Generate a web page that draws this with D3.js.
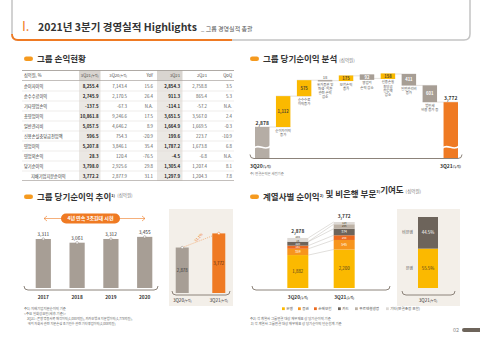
<!DOCTYPE html>
<html>
<head>
<meta charset="utf-8">
<script src="https://cdn.jsdelivr.net/npm/d3@7"></script>
<style>
  body { margin: 0; background: #fff; }
  svg { display: block; }
  text { font-family: "Noto Sans CJK KR", "Noto Sans", sans-serif; }
</style>
</head>
<body>
<div id="app"></div>
<script>
// ---- data ----
const TABLE_COLS = ["3Q21(누적)", "3Q20(누적)", "YoY", "3Q21", "2Q21", "QoQ"];
const TABLE_ROWS = ["순이자이익", "순수수료이익", "기타영업손익", "총영업이익", "일반관리비",
  "신용손실충당금전입액", "영업이익", "영업외손익", "당기순이익", "지배기업지분순이익"];
const TABLE_VALUES = [
  ["8,255.4", "7,143.4", "15.6", "2,854.3", "2,758.8", "3.5"],
  ["2,745.9", "2,170.5", "26.4", "911.3", "865.4", "5.3"],
  ["-137.5", "-67.3", "N.A.", "-114.1", "-57.2", "N.A."],
  ["10,861.8", "9,246.6", "17.5", "3,651.5", "3,567.0", "2.4"],
  ["5,057.5", "4,646.2", "8.9", "1,664.9", "1,669.5", "-0.3"],
  ["596.5", "754.3", "-20.9", "199.6", "223.7", "-10.9"],
  ["5,207.8", "3,846.1", "35.4", "1,787.2", "1,673.8", "6.8"],
  ["28.3", "120.4", "-76.5", "-4.5", "-6.8", "N.A."],
  ["3,798.0", "2,925.6", "29.8", "1,305.4", "1,207.4", "8.1"],
  ["3,772.2", "2,877.9", "31.1", "1,297.9", "1,204.3", "7.8"]
];

const WF_LABELS = ["3Q20(누적)", "순이자이익\n증가", "순수수료\n이익증가", "유가증권 및\n파생·외환\n관련 손익\n감소",
  "보험손익\n증가", "영업외\n손익 감소", "신용손실\n충당금\n전입액\n감소", "일반관리비\n증가",
  "법인세\n비용 증가 등", "3Q21(누적)"];
const WF_VALUES = [2878, 1112, 575, -18, 175, -92, 158, -411, -601, 3772];

const TREND_YEARS = ["2017", "2018", "2019", "2020"];
const TREND_VALUES = [3311, 3061, 3312, 3455];
const CUM_PERIODS = ["3Q20", "3Q21"];
const CUM_VALUES = [2878, 3772];
const CUM_GROWTH = "31.1%";

const AFFILIATES = ["은행", "증권", "손해보험", "카드", "푸르덴셜생명", "기타(연결조정 포함)"];
const AFF_3Q20 = [1882, 359, 181, 220, 15, 204];
const AFF_3Q21 = [2200, 545, 268, 374, 256, 129];
const AFF_TOTALS = [2878, 3772];
const SHARE_LABELS = ["은행", "비은행"];
const SHARE_VALUES = [55.5, 44.5];

// ---- colors ----
const ORANGE = "#ef7a23";
const YELLOW = "#fbb900";
const GRAY = "#a79e95";
const DARK = "#6d645b";
const BEIGE = "#f3efe9";
const AFF_COLORS = [YELLOW, "#f7951d", "#ec6a1f", DARK, "#bdb2a6", "#dedad6"];

const svg = d3.select("#app").append("svg").attr("width", 480).attr("height", 338);
svg.append("rect").attr("width", 480).attr("height", 338).attr("fill", "#fff");

function lines(g, str, x, y, lh, opts = {}) {
  const t = g.append("text").attr("font-size", opts.size || 4).attr("fill", opts.fill || "#555")
    .attr("text-anchor", opts.anchor || "middle");
  str.split("\n").forEach((l, i) => t.append("tspan").attr("x", x).attr("y", y + i * lh).text(l));
  return t;
}

function bracket(x0, x1, y) {
  svg.append("path")
    .attr("d", `M${x0},${y - 4} Q${x0},${y} ${x0 + 4},${y} L${x1 - 4},${y} Q${x1},${y} ${x1},${y - 4}`)
    .attr("fill", "none").attr("stroke", "#8c837a").attr("stroke-width", 1);
}

function sectionTitle(x, y, title, sup, unit) {
  svg.append("rect").attr("x", x - 13).attr("y", y - 5.5).attr("width", 9).attr("height", 4.5)
    .attr("rx", 2.25).attr("fill", "#f59a1f");
  const t = svg.append("text").attr("x", x).attr("y", y).attr("font-size", 8.5)
    .attr("font-weight", 700).attr("fill", "#333");
  title.forEach((p, i) => {
    t.append("tspan").text(p);
    if (sup[i]) t.append("tspan").attr("font-size", 4).attr("dy", -3.5).text(sup[i])
      .clone(true).text("").attr("dy", 3.5);
  });
  if (unit) t.append("tspan").attr("font-size", 4.5).attr("font-weight", 400).attr("fill", "#777")
    .attr("dx", 2).text(unit);
}

// ---- header ----
svg.append("path")
  .attr("d", "M12,-10 L12,34 Q12,40 18,40 L464,40 Q470,40 470,34 L470,-10")
  .attr("fill", "none").attr("stroke", "#c4c4c4").attr("stroke-width", 1.5);
svg.append("path").attr("d", "M12,34 Q12,40 18,40 L232,40")
  .attr("fill", "none").attr("stroke", ORANGE).attr("stroke-width", 1.8);
svg.append("text").attr("x", 22).attr("y", 31).attr("font-size", 13).attr("fill", ORANGE).text("I.");
svg.append("text").attr("x", 38).attr("y", 31).attr("font-size", 10.5).attr("font-weight", 700)
  .attr("fill", "#333").text("2021년 3분기 경영실적 Highlights");
svg.append("text").attr("x", 201).attr("y", 31).attr("font-size", 6).attr("fill", "#555")
  .text("_ 그룹 경영실적 총괄");

// ---- table ----
sectionTitle(37, 62, ["그룹 손익현황"], [], null);
const colRight = [99.5, 128, 154, 181, 208, 233];
const shaded = [[79, 100.5], [157, 182.5]];
shaded.forEach(([a, b]) => {
  svg.append("rect").attr("x", a).attr("y", 70.5).attr("width", b - a).attr("height", 10).attr("fill", "#d9d5d0");
  svg.append("rect").attr("x", a).attr("y", 80.5).attr("width", b - a).attr("height", 100).attr("fill", "#ebe8e4");
});
const rowY = i => 86 + i * 10;
svg.append("line").attr("x1", 22).attr("x2", 234).attr("y1", 70.5).attr("y2", 70.5).attr("stroke", "#9a948e").attr("stroke-width", 0.8);
svg.append("line").attr("x1", 22).attr("x2", 234).attr("y1", 80.5).attr("y2", 80.5).attr("stroke", "#9a948e").attr("stroke-width", 0.6);
TABLE_ROWS.forEach((r, i) => {
  if (i > 0) svg.append("line").attr("x1", 22).attr("x2", 234).attr("y1", rowY(i) - 5).attr("y2", rowY(i) - 5)
    .attr("stroke", "#dedad6").attr("stroke-width", 0.5);
});
svg.append("line").attr("x1", 22).attr("x2", 234).attr("y1", 180.5).attr("y2", 180.5).attr("stroke", "#9a948e").attr("stroke-width", 0.6);
svg.append("text").attr("x", 24).attr("y", 76.7).attr("font-size", 4.2).attr("fill", "#444").text("십억원, %");
TABLE_COLS.forEach((c, j) => {
  const t = svg.append("text").attr("x", colRight[j] - 1).attr("y", 76.7).attr("font-size", 4.2)
    .attr("fill", "#444").attr("text-anchor", "end");
  const m = c.match(/^(.*?)(\(누적\))?$/);
  t.append("tspan").text(m[1]);
  if (m[2]) t.append("tspan").attr("font-size", 3).text(m[2]);
});
TABLE_ROWS.forEach((r, i) => {
  svg.append("text").attr("x", i === 9 ? 31 : 24).attr("y", rowY(i) + 1.6).attr("font-size", 4.2)
    .attr("fill", "#333").text(r);
  TABLE_VALUES[i].forEach((v, j) => {
    svg.append("text").attr("x", colRight[j] - 1).attr("y", rowY(i) + 1.6).attr("font-size", 4.4)
      .attr("text-anchor", "end").attr("fill", (j === 0 || j === 3) ? "#222" : "#555")
      .attr("font-weight", (j === 0 || j === 3) ? 700 : 400).text(v);
  });
});

// ---- waterfall ----
sectionTitle(263, 62, ["그룹 당기순이익 분석"], [], "(십억원)");
const wfX = d3.scaleBand().domain(d3.range(WF_VALUES.length)).range([255, 458]).paddingInner(0.31);
const wfY = d3.scaleLinear().domain([2878, 4788]).range([127, 74]);
const WF_BASE = 158;
let cum = 0;
const wf = WF_VALUES.map((v, i) => {
  const last = i === WF_VALUES.length - 1;
  let d;
  if (i === 0 || last) { d = { y0: v, y1: v, total: true }; cum = v; }
  else { d = { y0: cum, y1: cum + v, total: false }; cum += v; }
  d.v = v; d.i = i; d.last = last;
  return d;
});
const wfG = svg.append("g");
// connectors
wf.slice(0, -1).forEach((d, i) => {
  wfG.append("line").attr("x1", wfX(i)).attr("x2", wfX(i + 1) + wfX.bandwidth())
    .attr("y1", wfY(d.y1)).attr("y2", wfY(d.y1)).attr("stroke", "#c9c3bd").attr("stroke-width", 0.5);
});
wf.forEach(d => {
  const x = wfX(d.i), w = wfX.bandwidth();
  let top, h;
  if (d.total) { top = wfY(d.v); h = WF_BASE - top; }
  else {
    top = wfY(Math.max(d.y0, d.y1)); h = Math.abs(wfY(d.y0) - wfY(d.y1));
    if (Math.abs(d.v) >= 50 && h < 5.5) { top = top - (5.5 - h) / 2; h = 5.5; }
    if (h < 1.2) h = 1.2;
  }
  const fill = d.total ? (d.last ? ORANGE : "#b5ada5") : (d.v > 0 ? YELLOW : GRAY);
  wfG.append("rect").attr("x", x).attr("y", top).attr("width", w).attr("height", h).attr("fill", fill);
  const cx = x + w / 2;
  const fmt = d3.format(",");
  if (d.total) {
    wfG.append("path").attr("d", `M${x - 1},${148} C${x + 4},${143} ${x + w - 4},${152} ${x + w + 1},${146}`)
      .attr("fill", "none").attr("stroke", "#fff").attr("stroke-width", 1.6);
    wfG.append("text").attr("x", cx).attr("y", top - 1.8).attr("text-anchor", "middle")
      .attr("font-size", 5).attr("font-weight", 700).attr("fill", "#333").text(fmt(d.v));
  } else if (h < 3) {
    wfG.append("text").attr("x", cx).attr("y", top - 1.5).attr("text-anchor", "middle")
      .attr("font-size", 4.2).attr("fill", "#555").text(fmt(Math.abs(d.v)));
  } else {
    wfG.append("text").attr("x", cx).attr("y", top + h / 2 + 1.5).attr("text-anchor", "middle")
      .attr("font-size", 4.2).attr("font-weight", 700).attr("fill", d.v > 0 ? "#5a4a2a" : "#fff")
      .text(fmt(Math.abs(d.v)));
  }
  if (!d.total) lines(wfG, WF_LABELS[d.i], cx, top + h + 4.5, 4.2, { size: 3.4, fill: "#555" });
});
bracket(250, 462, WF_BASE + 0.5);
[[0, "start", 250], [9, "end", 461]].forEach(([i, a, x]) => {
  const t = svg.append("text").attr("x", x).attr("y", 168).attr("font-size", 5).attr("text-anchor", a)
    .attr("fill", "#333").attr("font-weight", 700);
  t.append("tspan").text(WF_LABELS[i].replace("(누적)", ""));
  t.append("tspan").attr("font-size", 3.2).text("(누적)");
});
svg.append("text").attr("x", 250).attr("y", 174.5).attr("font-size", 3.4).attr("fill", "#777").text("주) 연결손익은 세전기준");

// ---- trend ----
sectionTitle(37, 200, ["그룹 당기순이익 추이"], ["1)"], "(십억원)");
const trX = d3.scaleBand().domain(TREND_YEARS).range([34, 154]).paddingInner(0.55).paddingOuter(0.05);
const trY = d3.scaleLinear().domain([0, 4000]).range([288, 228.8]);
// banner
const bannerY = 218.5;
svg.append("line").attr("x1", 44).attr("x2", 145).attr("y1", bannerY).attr("y2", bannerY)
  .attr("stroke", ORANGE).attr("stroke-width", 0.6);
svg.append("path").attr("d", `M47,${bannerY - 2.5} L44,${bannerY} L47,${bannerY + 2.5} M142,${bannerY - 2.5} L145,${bannerY} L142,${bannerY + 2.5}`)
  .attr("fill", "none").attr("stroke", ORANGE).attr("stroke-width", 0.6);
svg.append("rect").attr("x", 61).attr("y", bannerY - 5).attr("width", 59).attr("height", 10).attr("rx", 5).attr("fill", ORANGE);
svg.append("text").attr("x", 90.5).attr("y", bannerY + 1.8).attr("text-anchor", "middle").attr("font-size", 5)
  .attr("font-weight", 700).attr("fill", "#fff").text("4년 연속 3조원대 시현");
TREND_YEARS.forEach((yr, i) => {
  const x = trX(yr), w = trX.bandwidth(), v = TREND_VALUES[i];
  svg.append("rect").attr("x", x).attr("y", trY(v)).attr("width", w).attr("height", trY(0) - trY(v)).attr("fill", GRAY);
  svg.append("circle").attr("cx", x + w / 2).attr("cy", trY(v)).attr("r", 1.2).attr("fill", "#fff").attr("stroke", "#8c837a").attr("stroke-width", 0.5);
  svg.append("text").attr("x", x + w / 2).attr("y", trY(v) - 3).attr("text-anchor", "middle").attr("font-size", 4.8)
    .attr("fill", "#333").text(d3.format(",")(v));
  svg.append("text").attr("x", x + w / 2).attr("y", 298.5).attr("text-anchor", "middle").attr("font-size", 4.8)
    .attr("font-weight", 700).attr("fill", "#333").text(yr);
});
bracket(24, 158, 290);
// cumulative panel
svg.append("rect").attr("x", 169).attr("y", 209).attr("width", 64).attr("height", 97).attr("fill", BEIGE);
const cuX = d3.scaleBand().domain(CUM_PERIODS).range([174, 227]).paddingInner(0.95).paddingOuter(0.2);
const cuW = 13;
const cuC = p => cuX(p) + cuX.bandwidth() / 2;
const cuY = d3.scaleLinear().domain([0, 4000]).range([293, 229.8]);
svg.append("line").attr("x1", cuC(CUM_PERIODS[0])).attr("y1", cuY(CUM_VALUES[0]))
  .attr("x2", cuC(CUM_PERIODS[1])).attr("y2", cuY(CUM_VALUES[1]))
  .attr("stroke", "#f4a66a").attr("stroke-width", 0.7).attr("stroke-dasharray", "1.2,1");
CUM_PERIODS.forEach((p, i) => {
  const c = cuC(p), v = CUM_VALUES[i];
  svg.append("rect").attr("x", c - cuW / 2).attr("y", cuY(v)).attr("width", cuW).attr("height", cuY(0) - cuY(v))
    .attr("fill", i ? ORANGE : GRAY);
  svg.append("circle").attr("cx", c).attr("cy", cuY(v)).attr("r", 1.2).attr("fill", "#fff")
    .attr("stroke", i ? ORANGE : "#8c837a").attr("stroke-width", 0.5);
  svg.append("text").attr("x", c).attr("y", (cuY(v) + cuY(0)) / 2 + 1.5).attr("text-anchor", "middle").attr("font-size", 4.4)
    .attr("fill", i ? "#5a2a10" : "#333").text(d3.format(",")(v));
  const t = svg.append("text").attr("x", c).attr("y", 302).attr("text-anchor", "middle").attr("font-size", 4.6).attr("fill", "#333");
  t.append("tspan").text(p);
  t.append("tspan").attr("font-size", 3).text("(누적)");
});
{
  const mx = (cuC(CUM_PERIODS[0]) + cuC(CUM_PERIODS[1])) / 2, my = (cuY(CUM_VALUES[0]) + cuY(CUM_VALUES[1])) / 2;
  svg.append("text").attr("transform", `translate(${mx - 1},${my - 2}) rotate(-48)`).attr("text-anchor", "middle")
    .attr("font-size", 3.6).attr("fill", ORANGE).text(CUM_GROWTH);
}
bracket(172, 230, 295);
lines(svg, "주1) 지배기업지분순이익 기준\n<주요 일회성요인(세후 기준)>", 24, 309.5, 5.2, { size: 3.4, fill: "#666", anchor: "start" });
lines(svg, "3Q21 : 은행 명동사옥 매각이익(1,0XX억원), 카카오뱅크 지분법이익(1,77X억원),\n           해외 자회사 관련 지분손상 조기인수 관련 기타영업이익(2,0XX억원)", 27, 320, 5, { size: 3.2, fill: "#666", anchor: "start" });

// ---- affiliates ----
sectionTitle(263, 200, ["계열사별 순이익", " 및 비은행 부문", "기여도"], ["2)", "3)"], "(십억원)");
const afX = d3.scaleBand().domain(CUM_PERIODS).range([270, 372]).paddingInner(1.5).paddingOuter(0.6);
const afW = 21;
const afC = p => afX(p) + afX.bandwidth() / 2;
const afY = d3.scaleLinear().domain([0, 3772]).range([288, 222]);
const stacks = [AFF_3Q20, AFF_3Q21].map(vals => {
  let s = 0;
  return vals.map(v => { const o = [s, s + v]; s += v; return o; });
});
// fan lines between the two bars
AFFILIATES.forEach((a, k) => {
  svg.append("line").attr("x1", afC(CUM_PERIODS[0]) + afW / 2).attr("y1", afY(stacks[0][k][1]))
    .attr("x2", afC(CUM_PERIODS[1]) - afW / 2).attr("y2", afY(stacks[1][k][1]))
    .attr("stroke", "#bdb7b1").attr("stroke-width", 0.45);
});
CUM_PERIODS.forEach((p, i) => {
  const c = afC(p);
  // label baselines, pushed apart so that small segments stay readable
  let prev = Infinity;
  const labelY = stacks[i].map(([a, b], k) => {
    const fs = k === 0 ? 4.4 : 2.7;
    let y = (afY(a) + afY(b)) / 2 + fs * 0.35;
    y = Math.min(y, prev - 3.1);
    prev = y;
    return y;
  });
  stacks[i].forEach(([a, b], k) => {
    svg.append("rect").attr("x", c - afW / 2).attr("y", afY(b)).attr("width", afW).attr("height", afY(a) - afY(b))
      .attr("fill", AFF_COLORS[k]);
  });
  stacks[i].forEach(([a, b], k) => {
    const hh = afY(a) - afY(b);
    const fs = k === 0 ? 4.4 : (hh < 5 ? 2.7 : 3.4);
    svg.append("text").attr("x", c).attr("y", labelY[k]).attr("text-anchor", "middle")
      .attr("font-size", fs).attr("fill", (k === 0 || k >= 4) ? "#4a3a20" : "#fff")
      .text(d3.format(",")(b - a));
  });
  svg.append("text").attr("x", c).attr("y", afY(AFF_TOTALS[i]) - 4.5).attr("text-anchor", "middle").attr("font-size", 4.8)
    .attr("font-weight", 700).attr("fill", "#333").text(d3.format(",")(AFF_TOTALS[i]));
  const t = svg.append("text").attr("x", c).attr("y", 298.5).attr("text-anchor", "middle").attr("font-size", 4.8)
    .attr("font-weight", 700).attr("fill", "#333");
  t.append("tspan").text(p);
  t.append("tspan").attr("font-size", 3).text("(누적)");
});
bracket(252, 390, 290);
// share panel
svg.append("rect").attr("x", 397).attr("y", 209).attr("width", 63).attr("height", 97).attr("fill", BEIGE);
const shY = d3.scaleLinear().domain([0, 100]).range([288, 217]);
let sh = 0;
SHARE_VALUES.forEach((v, k) => {
  const y0 = shY(sh), y1 = shY(sh + v);
  svg.append("rect").attr("x", 418).attr("y", y1).attr("width", 20).attr("height", y0 - y1).attr("fill", k ? DARK : YELLOW);
  svg.append("text").attr("x", 428).attr("y", (y0 + y1) / 2 + 1.5).attr("text-anchor", "middle").attr("font-size", 4.4)
    .attr("fill", k ? "#fff" : "#4a3a20").text(v + "%");
  svg.append("text").attr("x", 413).attr("y", (y0 + y1) / 2 + 1.5).attr("text-anchor", "end").attr("font-size", 4)
    .attr("fill", "#555").text(SHARE_LABELS[k]);
  sh += v;
});
bracket(402, 455, 295);
{
  const t = svg.append("text").attr("x", 428).attr("y", 302).attr("text-anchor", "middle").attr("font-size", 4.6).attr("fill", "#333");
  t.append("tspan").text("3Q21");
  t.append("tspan").attr("font-size", 3).text("(누적)");
}
// legend
const legX = [282, 298, 314, 338, 355, 386];
AFFILIATES.forEach((a, k) => {
  svg.append("rect").attr("x", legX[k]).attr("y", 307.3).attr("width", 2.8).attr("height", 2.8).attr("fill", AFF_COLORS[k]);
  svg.append("text").attr("x", legX[k] + 4.3).attr("y", 310).attr("font-size", 3.6).attr("fill", "#555").text(a);
});
lines(svg, "주2) 각 계열사 그룹연결 대상 재무제표 상 당기순이익 기준\n   3) 각 계열사 그룹연결 대상 재무제표 상 당기순이익 단순합계 기준", 250, 320, 5, { size: 3.4, fill: "#666", anchor: "start" });

// page number
svg.append("text").attr("x", 459).attr("y", 332).attr("text-anchor", "end").attr("font-size", 5.5).attr("fill", "#888").text("02");
svg.append("rect").attr("x", 462).attr("y", 328).attr("width", 24).attr("height", 4).attr("rx", 2).attr("fill", DARK);
</script>
</body>
</html>
